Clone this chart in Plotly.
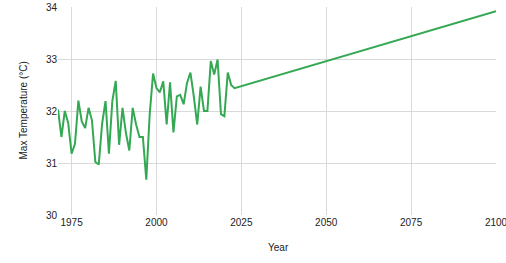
import plotly.graph_objects as go

years = list(range(1971, 2024)) + [2100]
max_temp = [32.03, 31.5, 32.0, 31.77, 31.18, 31.37, 32.2, 31.8, 31.67, 32.06,
            31.82, 31.02, 30.97, 31.76, 32.19, 31.18, 32.19, 32.58, 31.35, 32.06,
            31.58, 31.24, 32.06, 31.74, 31.5, 31.5, 30.68, 31.93, 32.72, 32.44,
            32.36, 32.57, 31.74, 32.55, 31.59, 32.28, 32.31, 32.13, 32.54, 32.74,
            32.28, 31.74, 32.47, 32.0, 32.0, 32.96, 32.7, 32.99, 31.94, 31.9,
            32.74, 32.5, 32.44, 33.92]
x_ticks = [1975, 2000, 2025, 2050, 2075, 2100]
y_ticks = [30, 31, 32, 33, 34]

W, H = 506, 263
L, R, T, B = 58, 10, 7, 48
plot_w = W - L - R
plot_h = H - T - B

fig = go.Figure(go.Scatter(x=years, y=max_temp, mode="lines",
                           line=dict(color="#34a853", width=2)))
fig.update_layout(
    width=W, height=H,
    margin=dict(l=L, r=R, t=T, b=B, autoexpand=False),
    paper_bgcolor="white", plot_bgcolor="white",
    font=dict(family="Liberation Sans, Arial", size=10, color="#222"),
    showlegend=False,
    annotations=[
        dict(text="Year", x=(278 - L) / plot_w, xref="paper",
             y=(H - B - 255) / plot_h, yref="paper",
             showarrow=False, font=dict(size=10, color="#222")),
        dict(text="Max Temperature (°C)", x=(15 - L) / plot_w, xref="paper",
             y=0.5, yref="paper",
             showarrow=False, textangle=-90, font=dict(size=10, color="#222")),
    ],
)
fig.update_xaxes(range=[1971, 2100], tickvals=x_ticks, showgrid=True,
                 gridcolor="#d9d9d9", gridwidth=1, zeroline=False,
                 automargin=False, ticks="", showline=False,
                 ticklabeloverflow="allow")
fig.update_yaxes(range=[30, 34], tickvals=y_ticks, showgrid=True,
                 gridcolor="#d9d9d9", gridwidth=1, zeroline=False,
                 automargin=False, ticks="", showline=False)
fig.write_html("out.html", config={"displayModeBar": False},
               post_script="document.body.style.margin='0';")
